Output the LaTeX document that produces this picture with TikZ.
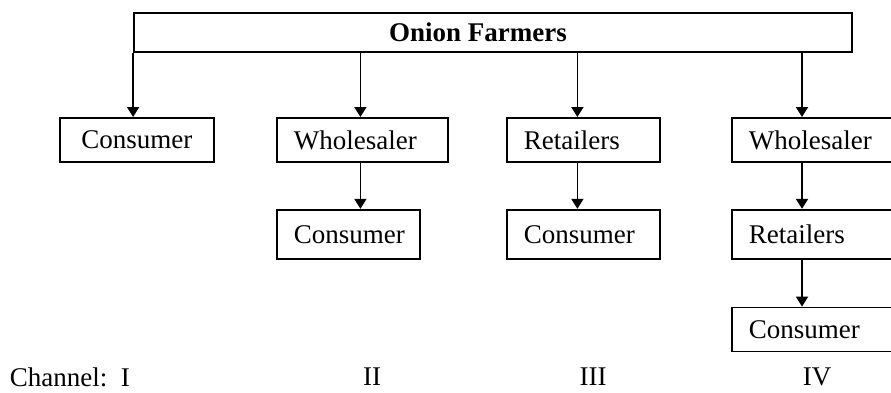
\documentclass[tikz,border=0pt]{standalone}
\usepackage{fontspec}
\setmainfont{Liberation Serif}
\usetikzlibrary{positioning,arrows.meta}

\begin{document}
\begin{tikzpicture}[x=1pt,y=-1pt,line width=1.8pt,>={Triangle[length=10pt,width=12pt]},
    font=\fontsize{27}{30}\selectfont,
    farmbox/.style={draw,minimum width=718pt,minimum height=39.5pt,inner sep=0pt},
    chbox/.style={draw,align=left,inner xsep=17pt,inner ysep=0pt,minimum height=44pt},
    chlabel/.style={inner sep=0pt}]
        \useasboundingbox (0,0) rectangle (891,392);
        \clip (0,0) rectangle (891,392);
        % Nodes
        \node[farmbox] (farm) at (493,32.5) {\hspace*{-30pt}\textbf{Onion Farmers}};
        \node[chbox,anchor=north west,text width=120pt,align=center] (c1) at (59,117) {Consumer};
        \node[chbox,anchor=north west,text width=137pt] (w2) at (276,117) {Wholesaler};
        \node[chbox,anchor=north west,text width=119pt] (r3) at (506,117) {Retailers};
        \node[chbox,anchor=north west,text width=136pt] (w4) at (731,117) {Wholesaler};
        \node[chbox,minimum height=49pt,text width=109pt,below=46pt of w2.south west,anchor=north west] (c2) {Consumer};
        \node[chbox,minimum height=49pt,text width=119pt,below=46pt of r3.south west,anchor=north west] (c3) {Consumer};
        \node[chbox,minimum height=49pt,text width=136pt,below=46pt of w4.south west,anchor=north west] (r4) {Retailers};
        \node[chbox,text width=136pt,below=47pt of r4.south west,anchor=north west] (c4) {Consumer};
        \coordinate (a3) at ([xshift=-6pt]r3.north);
        \coordinate (a4) at ([xshift=71pt]w4.north west);

        % Connections
        \draw[->] (farm.south west) -- (farm.south west |- c1.north);
        \draw[->] ([xshift=-2pt]w2.north |- farm.south) -- ([xshift=-2pt]w2.north);
        \draw[->] (a3 |- farm.south) -- (a3);
        \draw[->] (a4 |- farm.south) -- (a4);
        \draw[->] ([xshift=-2pt]w2.south) -- ([xshift=-2pt]w2.south |- c2.north);
        \draw[->] (a3 |- r3.south) -- (a3 |- c3.north);
        \draw[->] (a4 |- w4.south) -- (a4 |- r4.north);
        \draw[->] (a4 |- r4.south) -- (a4 |- c4.north);

        % Labels
        \node[chlabel,anchor=west] (ch1) at (9,377) {Channel:\ \ I};
        \node[chlabel] (ch2) at (372,377) {II};
        \node[chlabel] (ch3) at (593,377) {III};
        \node[chlabel] (ch4) at (817,377) {IV};
    \end{tikzpicture}
\end{document}
